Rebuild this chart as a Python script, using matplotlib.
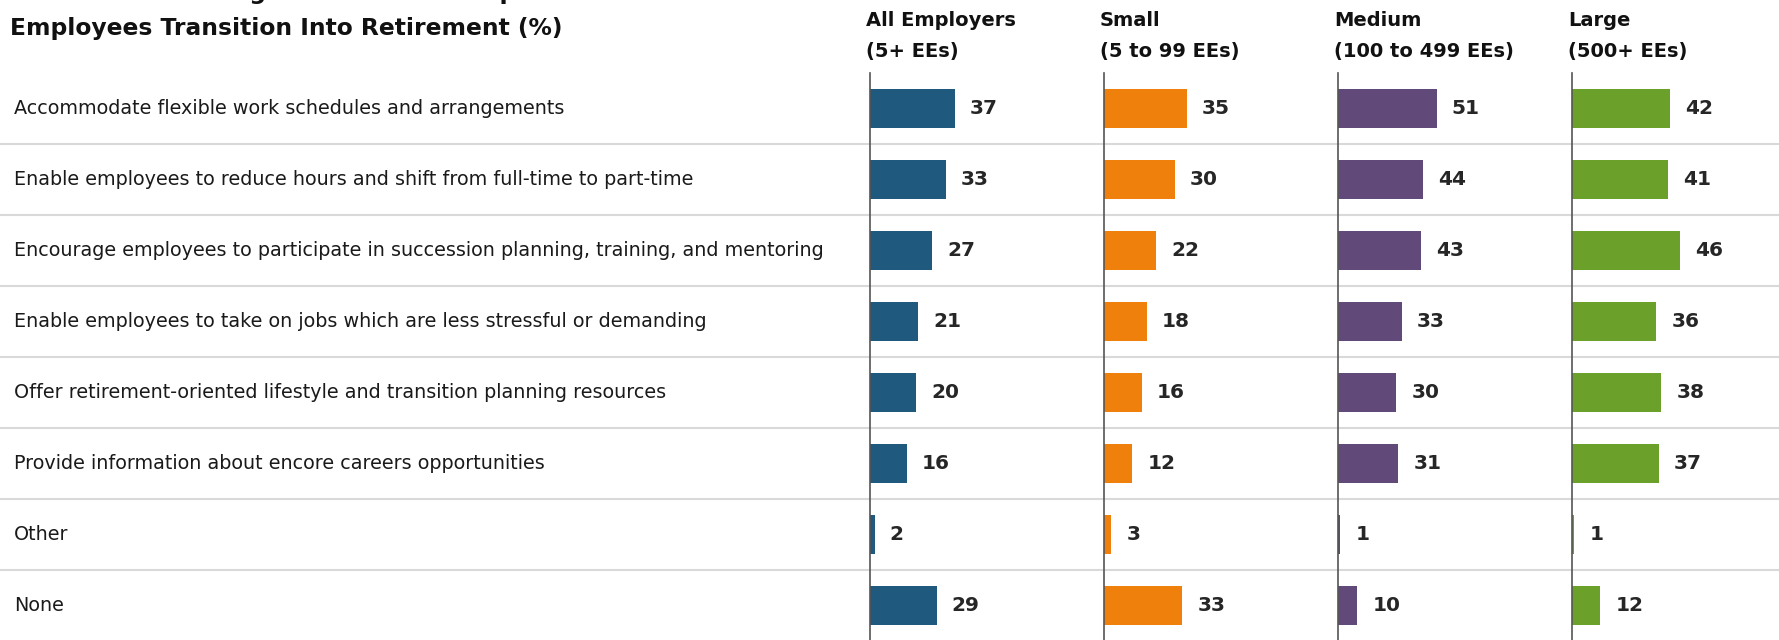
import matplotlib.pyplot as plt

categories = [
    "Accommodate flexible work schedules and arrangements",
    "Enable employees to reduce hours and shift from full-time to part-time",
    "Encourage employees to participate in succession planning, training, and mentoring",
    "Enable employees to take on jobs which are less stressful or demanding",
    "Offer retirement-oriented lifestyle and transition planning resources",
    "Provide information about encore careers opportunities",
    "Other",
    "None",
]
groups = ["All Employers\n(5+ EEs)", "Small\n(5 to 99 EEs)", "Medium\n(100 to 499 EEs)", "Large\n(500+ EEs)"]
all_employers = [37, 33, 27, 21, 20, 16, 2, 29]
small = [35, 30, 22, 18, 16, 12, 3, 33]
medium = [51, 44, 43, 33, 30, 31, 1, 10]
large = [42, 41, 46, 36, 38, 37, 1, 12]

series = [all_employers, small, medium, large]
colors = ["#1f5a7e", "#f0800c", "#614a7a", "#6ba02b"]
xmax = [102, 99, 121, 100]

W, H = 1779, 640
fig = plt.figure(figsize=(W / 100, H / 100), dpi=100)
plt.rcParams["font.family"] = ["DejaVu Sans"]

top_px, row_px = 73, 71
n = len(categories)
area = [0, (H - top_px - n * row_px) / H, 1, n * row_px / H]

# background: row separators and category labels
bg = fig.add_axes(area)
bg.set_xlim(0, 1)
bg.set_ylim(n, 0)
bg.axis("off")
for i in range(1, n):
    bg.axhline(i, color="#d9d9d9", lw=1.5, zorder=0)
for i, c in enumerate(categories):
    bg.text(14 / W, i + 0.5, c, ha="left", va="center", fontsize=13.8, color="#1a1a1a")

panel_left = [870, 1104, 1338, 1572]
for k, (vals, col, xm, name) in enumerate(zip(series, colors, xmax, groups)):
    x0 = panel_left[k]
    ax = fig.add_axes([x0 / W, area[1], 234 / W, area[3]])
    ax.set_facecolor("none")
    ax.set_xlim(0, xm)
    ax.set_ylim(n, 0)
    ax.barh([i + 0.5 for i in range(n)], vals, height=0.56, color=col, zorder=2)
    for i, v in enumerate(vals):
        ax.annotate(str(v), (v, i + 0.5), xytext=(11, 0), textcoords="offset points",
                    ha="left", va="center", fontsize=14.5, fontweight="bold", color="#262626")
    for s in ["top", "right", "bottom"]:
        ax.spines[s].set_visible(False)
    ax.spines["left"].set_color("#555555")
    ax.spines["left"].set_linewidth(1.2)
    ax.set_xticks([])
    ax.set_yticks([])
    fig.text((x0 - 4) / W, 1 - 36 / H, name, ha="left", va="center", fontsize=14,
             fontweight="bold", color="#111111", linespacing=1.85)

# title, first line runs off the top edge
fig.text(10 / W, 1 + 1 / H, "Retirement Strategies Offered to Help", ha="left", va="baseline",
         fontsize=16.8, fontweight="bold", color="#111111")
fig.text(10 / W, 1 - 29 / H, "Employees Transition Into Retirement (%)", ha="left", va="center",
         fontsize=16.8, fontweight="bold", color="#111111")

fig.savefig("out.png", dpi=100)
